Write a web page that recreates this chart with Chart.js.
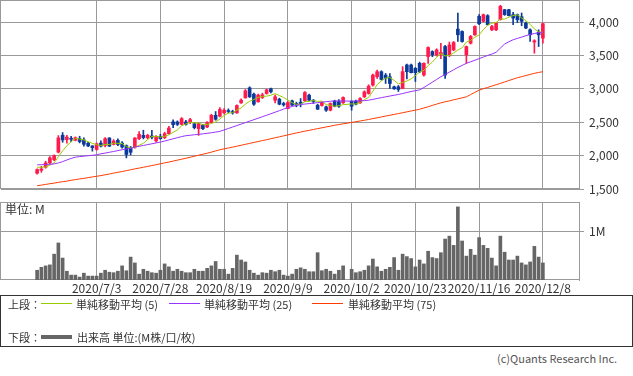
<!DOCTYPE html>
<html>
<head>
<meta charset="utf-8">
<script src="https://cdn.jsdelivr.net/npm/chart.js@4.4.1/dist/chart.umd.min.js"></script>
<style>
  body { margin: 0; background: #fff; font-family: 'Noto Sans CJK JP', 'Noto Sans', sans-serif; color: #333; }
  #page { position: relative; width: 633px; height: 376px; overflow: hidden; }
  #priceChart { position: absolute; left: 0; top: 0; }
  #volChart { position: absolute; left: 0; top: 196px; }
  .unit { position: absolute; left: 5px; top: 201px; font-size: 12px; line-height: 16px; }
  .legend { position: absolute; left: 0; top: 295px; width: 631px; height: 50px; border: 1px solid #333; font-size: 11px; line-height: 14px; }
  .legend span { position: absolute; white-space: nowrap; }
  .legend i { position: absolute; display: block; }
  .copy { position: absolute; left: 497px; top: 350px; font-size: 11px; line-height: 16px; color: #555; }
</style>
</head>
<body>
<div id="page">
  <canvas id="priceChart" width="633" height="200"></canvas>
  <canvas id="volChart" width="633" height="100"></canvas>
  <div class="unit">単位: M</div>
  <div class="legend">
    <span style="left:7px; top:1px">上段：</span>
    <i style="left:40px; top:7px; width:31px; height:1px; background:#99cc00"></i>
    <span style="left:75px; top:1px">単純移動平均 (5)</span>
    <i style="left:168px; top:7px; width:31px; height:1px; background:#9933ff"></i>
    <span style="left:203px; top:1px">単純移動平均 (25)</span>
    <i style="left:311px; top:7px; width:31px; height:1px; background:#ff3c00"></i>
    <span style="left:347px; top:1px">単純移動平均 (75)</span>
    <span style="left:7px; top:34px">下段：</span>
    <i style="left:40px; top:39px; width:31px; height:4px; background:#666"></i>
    <span style="left:76px; top:34px">出来高 単位:(M株/口/枚)</span>
  </div>
  <div class="copy">(c)Quants Research Inc.</div>
</div>
<script>
// trading days (2020/10/1: TSE outage, no trade)
const dates = [
  '2020/6/15','2020/6/16','2020/6/17','2020/6/18','2020/6/19','2020/6/22','2020/6/23','2020/6/24','2020/6/25','2020/6/26',
  '2020/6/29','2020/6/30','2020/7/1','2020/7/2','2020/7/3','2020/7/6','2020/7/7','2020/7/8','2020/7/9','2020/7/10',
  '2020/7/13','2020/7/14','2020/7/15','2020/7/16','2020/7/17','2020/7/20','2020/7/21','2020/7/22','2020/7/27','2020/7/28',
  '2020/7/29','2020/7/30','2020/7/31','2020/8/3','2020/8/4','2020/8/5','2020/8/6','2020/8/7','2020/8/11','2020/8/12',
  '2020/8/13','2020/8/14','2020/8/17','2020/8/18','2020/8/19','2020/8/20','2020/8/21','2020/8/24','2020/8/25','2020/8/26',
  '2020/8/27','2020/8/28','2020/8/31','2020/9/1','2020/9/2','2020/9/3','2020/9/4','2020/9/7','2020/9/8','2020/9/9',
  '2020/9/10','2020/9/11','2020/9/14','2020/9/15','2020/9/16','2020/9/17','2020/9/18','2020/9/23','2020/9/24','2020/9/25',
  '2020/9/28','2020/9/29','2020/9/30','2020/10/1','2020/10/2','2020/10/5','2020/10/6','2020/10/7','2020/10/8','2020/10/9',
  '2020/10/12','2020/10/13','2020/10/14','2020/10/15','2020/10/16','2020/10/19','2020/10/20','2020/10/21','2020/10/22','2020/10/23',
  '2020/10/26','2020/10/27','2020/10/28','2020/10/29','2020/10/30','2020/11/2','2020/11/4','2020/11/5','2020/11/6','2020/11/9',
  '2020/11/10','2020/11/11','2020/11/12','2020/11/13','2020/11/16','2020/11/17','2020/11/18','2020/11/19','2020/11/20','2020/11/24',
  '2020/11/25','2020/11/26','2020/11/27','2020/11/30','2020/12/1','2020/12/2','2020/12/3','2020/12/4','2020/12/7','2020/12/8'
];
const tickLabels = ['2020/7/3','2020/7/28','2020/8/19','2020/9/9','2020/10/2','2020/10/23','2020/11/16','2020/12/8'];
const priceTicks = [1500, 2000, 2500, 3000, 3500, 4000];
const volTicks = [1];

const opens = [
  1736,1780,1826,1891,1940,2052,2305,2240,2260,2230, 2255,2235,2185,2145,2092,2187,2152,2263,2167,2228,
  2187,2150,2120,2127,2253,2303,2268,2295,2220,2290, 2268,2328,2505,2504,2468,2504,2494,2478,2404,2454,
  2428,2494,2604,2590,2640,2670,2660,2640,2790,2865, 3015,2920,2805,2870,2930,3000,2830,2845,2780,2705,
  2820,2780,2800,2820,2905,2830,2755,2750,2730,2680, 2815,2810,2790,null,2815,2815,2790,2880,2930,3056,
  3181,3256,3205,3180,3030,3030,3006,3357,3357,3307, 3382,3207,3483,3558,3508,3520,3633,3508,3583,3894,
  3859,3508,3683,3809,4085,4010,4095,3884,3884,4035, 4185,4185,4110,4110,4080,3985,3884,3700,3849,3759
];
const highs = [
  1801,1840,1916,1987,2010,2300,2345,2303,2290,2280, 2290,2268,2200,2150,2190,2220,2270,2270,2240,2250,
  2210,2160,2137,2270,2360,2380,2320,2380,2300,2320, 2350,2440,2535,2520,2570,2530,2560,2490,2490,2470,
  2510,2620,2660,2720,2705,2700,2680,2760,2850,2990, 3030,2935,2920,2935,2995,3010,2905,2860,2800,2810,
  2830,2800,2855,2960,2920,2840,2770,2810,2740,2790, 2830,2840,2880,null,2820,2830,2870,2970,3060,3220,
  3280,3270,3230,3230,3040,3050,3332,3370,3370,3320, 3400,3390,3630,3570,3600,3680,3650,3700,3710,4135,
  3870,3640,3800,3945,4110,4120,4110,3950,3990,4250, 4190,4190,4145,4120,4135,4000,3900,3735,3884,3985
];
const lows = [
  1721,1750,1811,1876,1925,2040,2200,2187,2210,2220, 2190,2142,2135,2067,2080,2130,2130,2135,2160,2150,
  2110,1966,2010,2110,2240,2250,2250,2250,2200,2245, 2255,2320,2420,2450,2460,2455,2480,2400,2303,2390,
  2420,2490,2530,2580,2625,2640,2620,2630,2780,2860, 2870,2750,2800,2855,2920,2940,2790,2760,2740,2700,
  2750,2730,2730,2810,2820,2780,2690,2740,2660,2670, 2730,2720,2780,null,2680,2760,2780,2870,2920,3040,
  3156,3130,3080,3006,2990,2960,3000,3150,3240,3110, 3240,3190,3380,3480,3490,3450,3156,3480,3570,3708,
  3700,3382,3670,3800,3960,4000,3955,3870,3870,4030, 4100,4090,3960,3990,3945,3900,3708,3533,3633,3683
];
const closes = [
  1791,1800,1891,1966,2000,2265,2235,2278,2245,2270, 2210,2170,2145,2120,2177,2142,2253,2142,2218,2167,
  2127,2017,2050,2263,2318,2270,2303,2275,2285,2253, 2328,2413,2465,2468,2554,2468,2539,2418,2478,2404,
  2494,2604,2544,2690,2680,2660,2640,2750,2830,2970, 2880,2770,2905,2910,2985,2955,2880,2770,2760,2795,
  2755,2755,2780,2945,2830,2810,2695,2800,2680,2780, 2740,2740,2870,null,2740,2770,2855,2955,3040,3206,
  3256,3140,3160,3080,3000,2990,3257,3257,3242,3242, 3257,3382,3618,3508,3583,3545,3207,3658,3693,3809,
  3708,3633,3784,3934,3975,4110,3960,3934,3985,4236, 4110,4095,4060,4035,4010,3910,3809,3720,3809,3975
];
const ma5 = [
  1826,1826,1830,1858,1890,1984,2071,2149,2205,2259, 2248,2235,2208,2183,2164,2151,2167,2167,2186,2184,
  2181,2134,2116,2125,2155,2184,2241,2286,2290,2277, 2289,2311,2349,2385,2446,2474,2499,2489,2491,2461,
  2467,2480,2505,2547,2602,2636,2643,2684,2712,2770, 2814,2840,2871,2887,2890,2905,2927,2900,2870,2832,
  2792,2767,2769,2806,2813,2824,2812,2816,2763,2753, 2739,2748,2762,null,2774,2772,2795,2838,2872,2965,
  3062,3119,3160,3168,3127,3074,3097,3117,3149,3198, 3251,3276,3348,3401,3470,3527,3492,3500,3537,3582,
  3615,3700,3725,3774,3807,3887,3953,3983,3993,4045, 4045,4072,4097,4107,4062,4022,3965,3897,3852,3845
];
const ma25 = [
  1862,1864,1866,1870,1876,1890,1910,1935,1958,1977, 1985,1992,1998,2005,2012,2027,2038,2050,2062,2075,
  2088,2100,2110,2127,2140,2152,2165,2177,2190,2203, 2218,2235,2252,2268,2285,2298,2305,2312,2318,2326,
  2334,2342,2352,2363,2385,2406,2428,2450,2472,2494, 2516,2538,2560,2582,2604,2627,2650,2673,2697,2720,
  2735,2750,2765,2772,2779,2786,2793,2800,2807,2814, 2820,2819,2818,null,2815,2818,2820,2823,2830,2842,
  2855,2868,2880,2892,2904,2915,2930,2945,2960,2972, 2985,3020,3060,3100,3140,3181,3215,3250,3285,3320,
  3350,3382,3405,3428,3452,3476,3500,3520,3548,3610, 3670,3705,3735,3755,3775,3795,3815,3828,3840,3849
];
const ma75 = [
  1550,1558,1569,1579,1588,1600,1609,1618,1631,1640, 1651,1659,1670,1681,1690,1701,1713,1724,1738,1750,
  1762,1775,1788,1801,1813,1826,1838,1851,1864,1878, 1891,1903,1918,1932,1946,1960,1975,1990,2006,2021,
  2036,2052,2070,2088,2101,2114,2127,2141,2155,2169, 2183,2197,2211,2225,2238,2253,2267,2281,2296,2310,
  2325,2339,2353,2366,2378,2391,2404,2416,2429,2441, 2454,2465,2476,null,2497,2508,2518,2529,2541,2554,
  2566,2579,2592,2604,2617,2629,2642,2655,2668,2681, 2694,2713,2732,2752,2771,2790,2806,2820,2835,2850,
  2865,2880,2914,2947,2981,3001,3021,3041,3061,3081, 3102,3124,3145,3166,3182,3199,3215,3232,3245,3257
];
// volume in millions
const volumes = [
  0.20,0.26,0.29,0.31,0.53,0.76,0.45,0.18,0.10,0.10, 0.06,0.14,0.08,0.08,0.08,0.14,0.20,0.16,0.15,0.18,
  0.29,0.19,0.47,0.35,0.12,0.22,0.18,0.15,0.14,0.20, 0.33,0.27,0.18,0.22,0.18,0.15,0.15,0.22,0.18,0.18,
  0.24,0.29,0.38,0.22,0.22,0.12,0.24,0.51,0.41,0.37, 0.20,0.14,0.10,0.15,0.14,0.20,0.17,0.20,0.10,0.08,
  0.12,0.22,0.25,0.22,0.17,0.17,0.56,0.19,0.22,0.18, 0.12,0.20,0.29,null,0.22,0.15,0.17,0.20,0.29,0.43,
  0.27,0.18,0.22,0.26,0.46,0.20,0.53,0.48,0.44,0.27, 0.41,0.33,0.59,0.46,0.44,0.56,0.84,0.90,0.71,1.50,
  0.80,0.49,0.63,0.51,0.87,0.71,0.65,0.45,0.29,0.90, 0.57,0.41,0.41,0.49,0.35,0.31,0.37,0.69,0.47,0.35
];

const PAD = 8;
const RED = '#ff1a4b';
const BLUE = '#0b3a9a';
const GRID = '#9a9a9a';
const FONT = "'Noto Sans CJK JP', 'Noto Sans', sans-serif";

Chart.defaults.font.family = FONT;
Chart.defaults.font.size = 12;
Chart.defaults.color = '#333';

const edge = () => Array(PAD).fill(null);
const padArr = arr => [...edge(), ...arr, ...edge()];
const labels = [...Array(PAD).fill(''), ...dates, ...Array(PAD).fill('')];

const bodies = padArr(dates.map((d, i) => opens[i] == null ? null : [opens[i], closes[i]]));
const wicks = padArr(dates.map((d, i) => lows[i] == null ? null : [lows[i], highs[i]]));
const candleColor = ctx => {
  const i = ctx.dataIndex - PAD;
  return closes[i] >= opens[i] ? RED : BLUE;
};

const keepDateTicks = scale => {
  scale.ticks = scale.ticks.filter(t => tickLabels.includes(labels[t.value]));
};

// box around each panel
const frame = {
  id: 'frame',
  beforeDatasetsDraw(chart) {
    const { ctx, chartArea: a } = chart;
    const x0 = Math.floor(a.left) - 0.5, x1 = Math.round(a.right) + 0.5;
    const y0 = Math.round(a.top) + 0.5, y1 = Math.round(a.bottom) - 0.5;
    ctx.save();
    ctx.strokeStyle = GRID;
    ctx.lineWidth = 1;
    ctx.strokeRect(x0, y0, x1 - x0, y1 - y0);
    ctx.restore();
  }
};

const common = {
  responsive: false,
  animation: false,
  events: [],
  plugins: { legend: { display: false }, tooltip: { enabled: false } }
};

const maLine = (data, color) => ({
  type: 'line',
  data: padArr(data),
  borderColor: color,
  borderWidth: 1,
  pointRadius: 0,
  tension: 0,
  spanGaps: true,
  order: 0
});

new Chart(document.getElementById('priceChart'), {
  type: 'bar',
  data: {
    labels: labels,
    datasets: [
      { data: wicks, backgroundColor: candleColor, barThickness: 1, grouped: false, order: 2 },
      { data: bodies, backgroundColor: candleColor, barThickness: 3, grouped: false, minBarLength: 1, order: 1 },
      maLine(ma75, '#ff3c00'),
      maLine(ma25, '#9933ff'),
      maLine(ma5, '#99cc00')
    ]
  },
  options: {
    ...common,
    layout: { padding: { left: 1, top: 0, right: 0, bottom: 11 } },
    scales: {
      x: {
        offset: true,
        grid: { offset: false, color: GRID, drawTicks: false },
        border: { display: false },
        ticks: { display: false, autoSkip: false },
        afterBuildTicks: keepDateTicks,
        afterFit: s => { s.height = 0; s.paddingLeft = 0; s.paddingRight = 0; }
      },
      y: {
        position: 'right',
        min: 1500,
        max: 4330,
        grid: { color: GRID, tickLength: 5 },
        border: { color: GRID },
        ticks: { padding: 5, callback: v => v.toLocaleString('en-US') },
        afterBuildTicks: s => { s.ticks = priceTicks.map(v => ({ value: v })); },
        afterFit: s => { s.width = 54; s.paddingTop = 0; s.paddingBottom = 0; }
      }
    }
  },
  plugins: [frame]
});

new Chart(document.getElementById('volChart'), {
  type: 'bar',
  data: {
    labels: labels,
    datasets: [
      { data: padArr(volumes), backgroundColor: '#666', barThickness: 3 }
    ]
  },
  options: {
    ...common,
    layout: { padding: { left: 1, top: 6, right: 0, bottom: 0 } },
    scales: {
      x: {
        offset: true,
        grid: { offset: false, color: GRID, drawTicks: false },
        border: { display: false },
        ticks: { autoSkip: false, maxRotation: 0, minRotation: 0, padding: 1 },
        afterBuildTicks: keepDateTicks,
        afterFit: s => { s.height = 16; s.paddingLeft = 0; s.paddingRight = 0; }
      },
      y: {
        position: 'right',
        min: 0,
        max: 1.6,
        grid: { color: GRID, tickLength: 5 },
        border: { color: GRID },
        ticks: { padding: 5, callback: v => v + 'M' },
        afterBuildTicks: s => { s.ticks = volTicks.map(v => ({ value: v })); },
        afterFit: s => { s.width = 54; s.paddingTop = 0; s.paddingBottom = 0; }
      }
    }
  },
  plugins: [frame]
});
</script>
</body>
</html>
